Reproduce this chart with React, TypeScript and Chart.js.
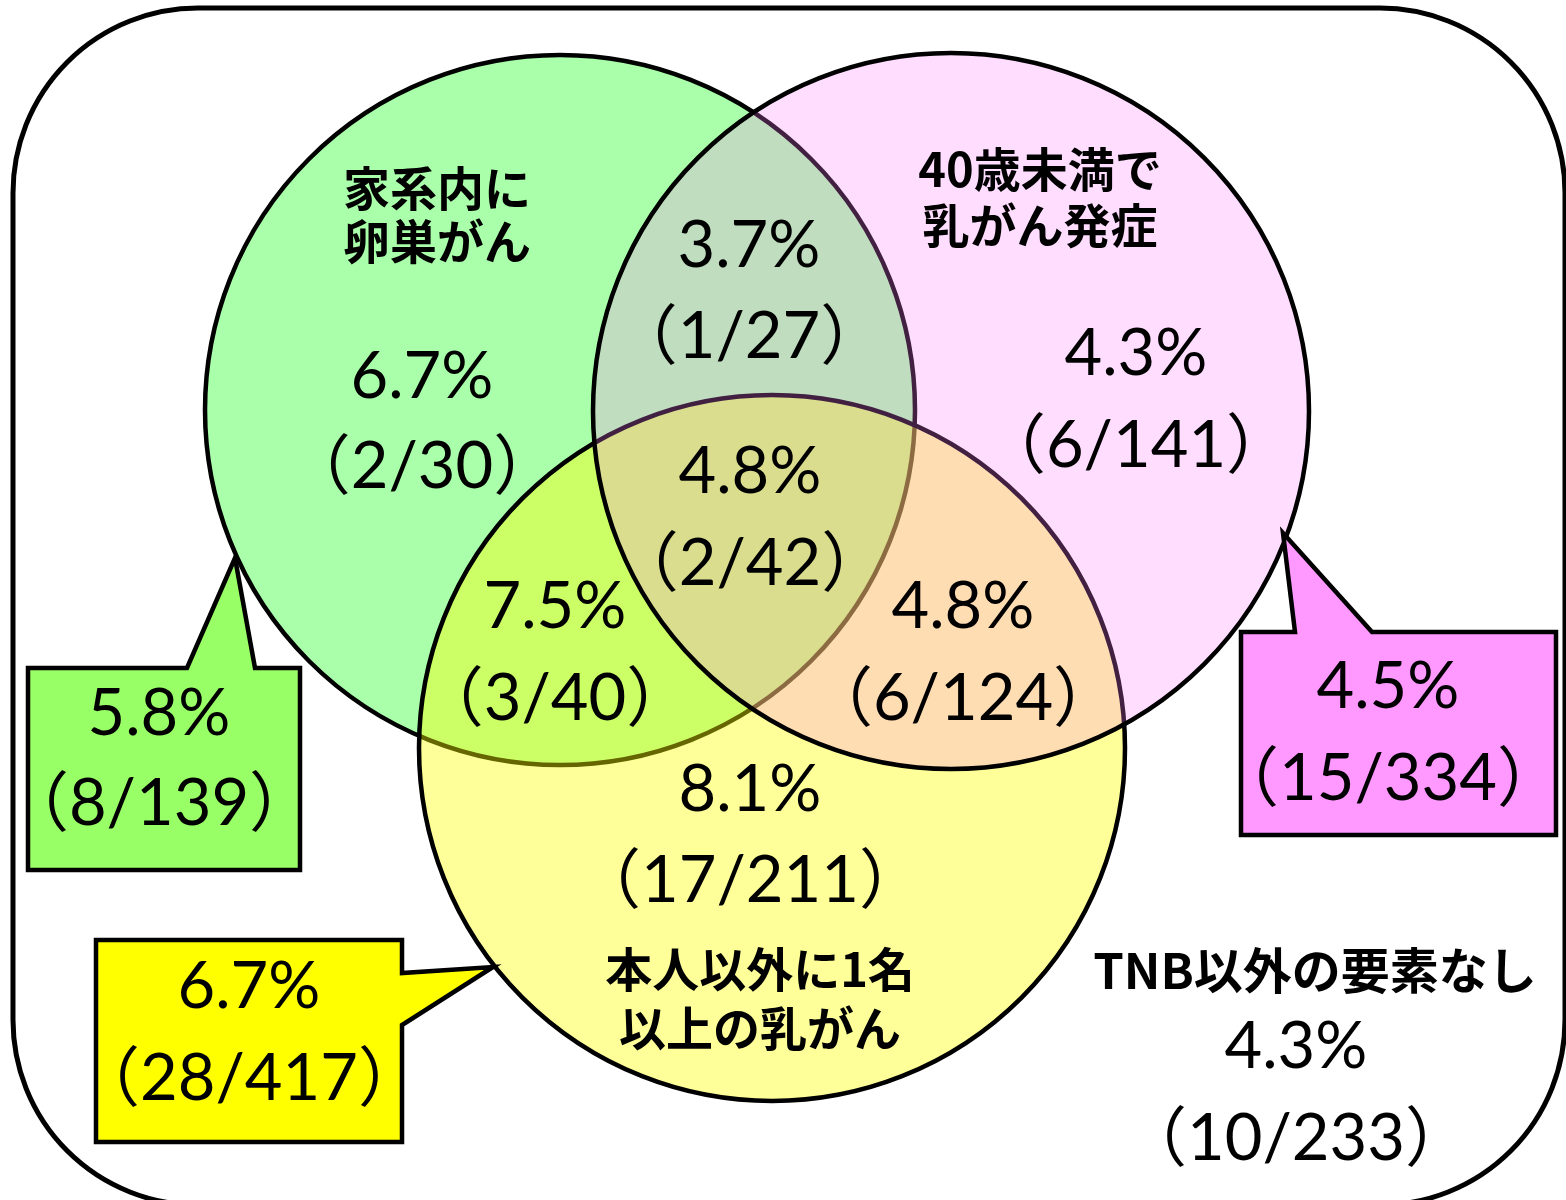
import React, { useEffect, useRef } from "react";
import { Chart, registerables } from "chart.js";

Chart.register(...registerables);

// ---------- data ----------
const setLabels: string[][] = [
  ["家系内に", "卵巣がん"],
  ["40歳未満で", "乳がん発症"],
  ["本人以外に1名", "以上の乳がん"],
];
const noneLabel = "TNB以外の要素なし";

// regions: G only, G∩P, P only, G∩P∩Y, G∩Y, P∩Y, Y only, G total, P total, Y total, none
const regionRates = ["6.7%", "3.7%", "4.3%", "4.8%", "7.5%", "4.8%", "8.1%", "5.8%", "4.5%", "6.7%", "4.3%"];
const regionPositives = [2, 1, 6, 2, 3, 6, 17, 8, 15, 28, 10];
const regionTotals = [30, 27, 141, 42, 40, 124, 211, 139, 334, 417, 233];

// ---------- layout (diagram units = pixels of a 1566x1200 canvas) ----------
const W = 1566;
const H = 1200;

const circleX = [560, 951, 772];
const circleY = [410, 411, 748];
const circleR = [355, 358, 353];
const circleFill = ["#AAFFAA", "rgba(255,124,255,0.26)", "rgba(255,255,0,0.4)"];
const circleOrder = [0, 2, 1];

const setLabelX = [437, 1040, 760];
const setLabelY = [
  [188, 241],
  [169, 225],
  [969, 1028],
];
const noneLabelPos = [1315, 970];

const regionX = [422, 749, 1136, 750, 555, 963, 750, 159, 1388, 249, 1296];
const rateBaseY = [398, 267, 375, 493, 628, 628, 811, 735, 708, 1008, 1068];
const countBaseY = [488, 358, 467, 585, 720, 720, 902, 825, 800, 1100, 1160];

const calloutShapes: number[][][] = [
  [[28, 668], [187, 668], [235, 558], [255, 668], [300, 668], [300, 870], [28, 870]],
  [[1241, 632], [1295, 632], [1283, 533], [1372, 632], [1556, 632], [1556, 835], [1241, 835]],
  [[96, 940], [402, 940], [402, 973], [493, 967], [402, 1025], [402, 1142], [96, 1142]],
];
const calloutFill = ["#99FF66", "#FF99FF", "#FFFF00"];

const frame = { x0: 13, y0: 8, x1: 1565, y1: 1205, r: 185 };

const numFont = "65px Lato, 'Noto Sans CJK JP', sans-serif";
const jpFont = "bold 47px 'Noto Sans CJK JP', sans-serif";
const noneFont = "bold 49px 'Noto Sans CJK JP', sans-serif";

const vennPlugin = {
  id: "venn",
  beforeDatasetsDraw(chart: any) {
    const ctx: CanvasRenderingContext2D = chart.ctx;
    const xs = chart.scales.x;
    const ys = chart.scales.y;
    const px = (v: number) => xs.getPixelForValue(v);
    const py = (v: number) => ys.getPixelForValue(v);
    const len = (v: number) => xs.getPixelForValue(v) - xs.getPixelForValue(0);
    ctx.save();
    // frame
    ctx.beginPath();
    ctx.roundRect(px(frame.x0), py(frame.y0), len(frame.x1 - frame.x0), py(frame.y1) - py(frame.y0), len(frame.r));
    ctx.fillStyle = "#FFFFFF";
    ctx.fill();
    ctx.lineWidth = 5;
    ctx.strokeStyle = "#000000";
    ctx.stroke();
    // circles
    for (const i of circleOrder) {
      ctx.beginPath();
      ctx.arc(px(circleX[i]), py(circleY[i]), len(circleR[i]), 0, Math.PI * 2);
      ctx.fillStyle = circleFill[i];
      ctx.fill();
      ctx.lineWidth = 4.5;
      ctx.strokeStyle = "#000000";
      ctx.stroke();
    }
    // callouts
    calloutShapes.forEach((pts, k) => {
      ctx.beginPath();
      pts.forEach((p, j) => {
        if (j === 0) ctx.moveTo(px(p[0]), py(p[1]));
        else ctx.lineTo(px(p[0]), py(p[1]));
      });
      ctx.closePath();
      ctx.fillStyle = calloutFill[k];
      ctx.fill();
      ctx.lineWidth = 4.5;
      ctx.lineJoin = "miter";
      ctx.strokeStyle = "#000000";
      ctx.stroke();
    });
    ctx.restore();
  },
  afterDatasetsDraw(chart: any) {
    const ctx: CanvasRenderingContext2D = chart.ctx;
    const xs = chart.scales.x;
    const ys = chart.scales.y;
    const px = (v: number) => xs.getPixelForValue(v);
    const py = (v: number) => ys.getPixelForValue(v);
    ctx.save();
    ctx.fillStyle = "#000000";
    ctx.textAlign = "center";
    // set labels
    ctx.font = jpFont;
    ctx.textBaseline = "middle";
    setLabels.forEach((lines, i) => {
      lines.forEach((t, j) => ctx.fillText(t, px(setLabelX[i]), py(setLabelY[i][j])));
    });
    ctx.font = noneFont;
    ctx.fillText(noneLabel, px(noneLabelPos[0]), py(noneLabelPos[1]));
    // region values
    ctx.font = numFont;
    ctx.textBaseline = "alphabetic";
    const meta = chart.getDatasetMeta(0);
    regionRates.forEach((r, i) => {
      const pt = meta.data[i];
      ctx.fillText(r, pt.x, pt.y);
      ctx.fillText(`（${regionPositives[i]}/${regionTotals[i]}）`, pt.x, py(countBaseY[i]));
    });
    ctx.restore();
  },
};

export default function App() {
  const ref = useRef<HTMLCanvasElement | null>(null);
  useEffect(() => {
    if (!ref.current) return;
    const chart = new Chart(ref.current, {
      type: "scatter",
      data: {
        datasets: [
          {
            data: regionX.map((x, i) => ({ x, y: rateBaseY[i] })),
            pointRadius: 0,
            pointHoverRadius: 0,
          },
        ],
      },
      options: {
        animation: false,
        responsive: false,
        events: [],
        layout: { padding: 0 },
        plugins: { legend: { display: false }, tooltip: { enabled: false } },
        scales: {
          x: { type: "linear", min: 0, max: W, display: false },
          y: { type: "linear", min: 0, max: H, reverse: true, display: false },
        },
      },
      plugins: [vennPlugin],
    });
    return () => chart.destroy();
  }, []);
  return (
    <div style={{ position: "absolute", left: 0, top: 0, width: W, height: H, background: "#fff" }}>
      <canvas ref={ref} width={W} height={H} style={{ display: "block" }} />
    </div>
  );
}
